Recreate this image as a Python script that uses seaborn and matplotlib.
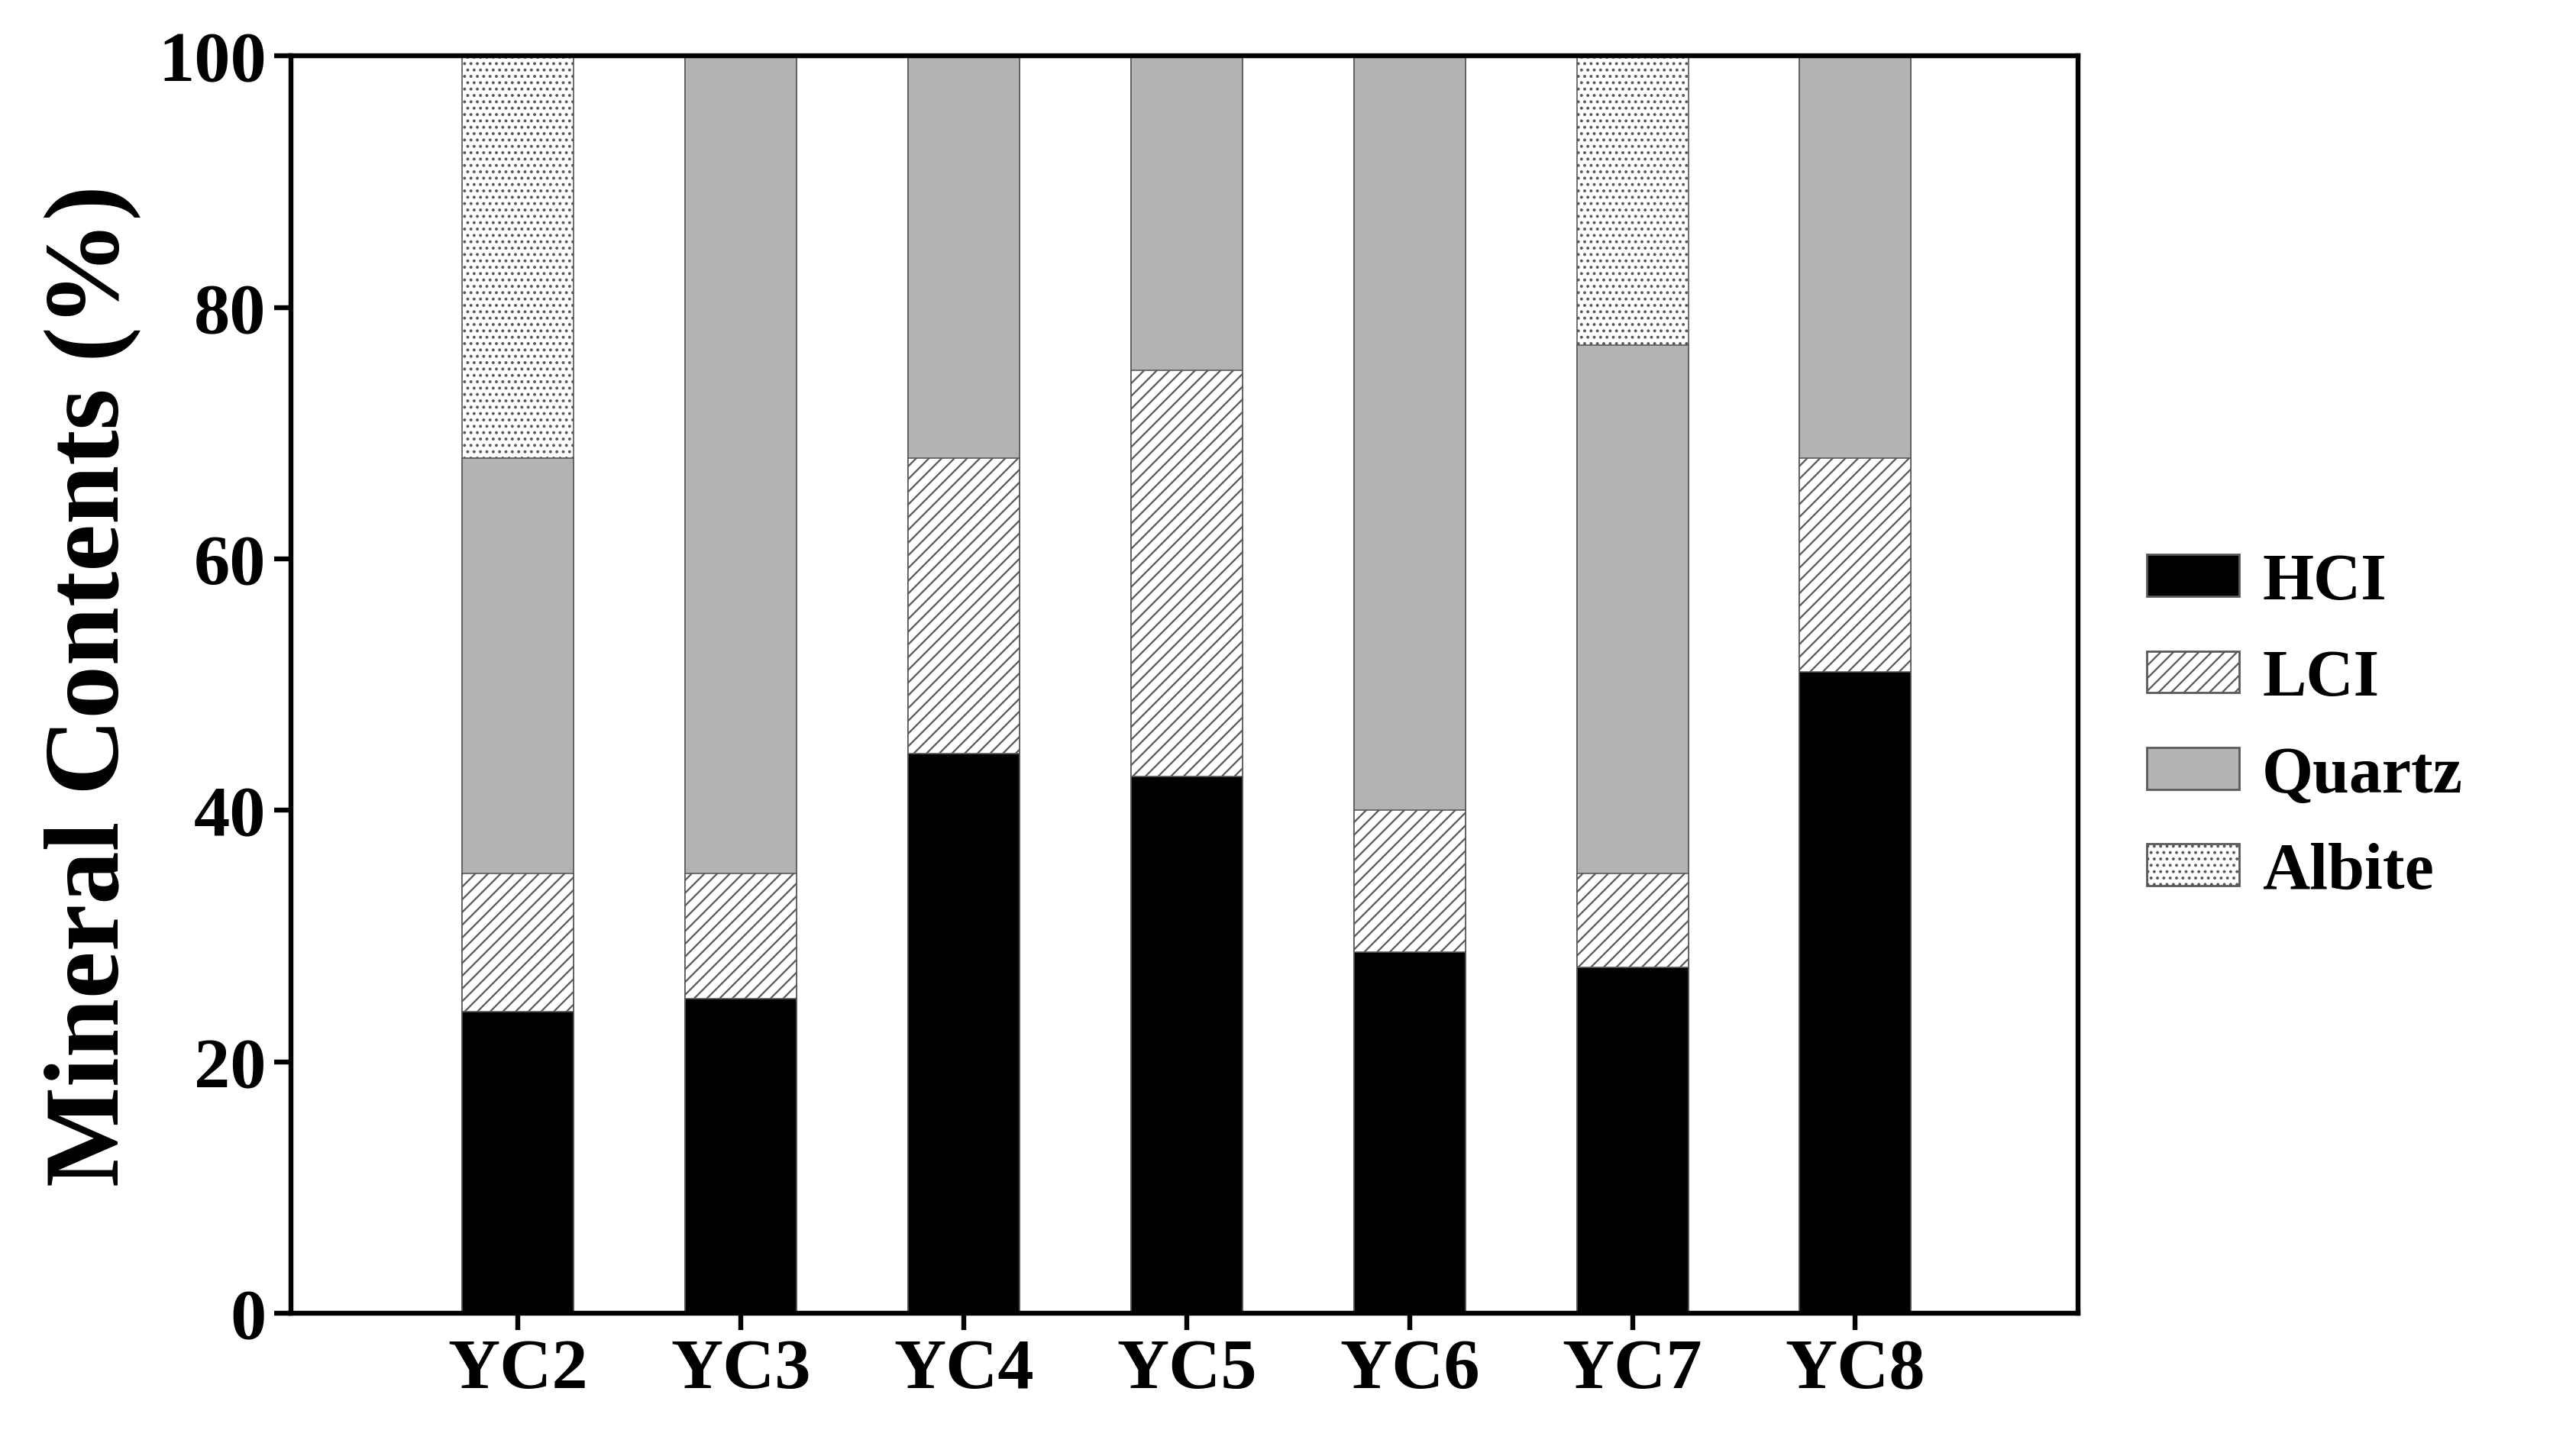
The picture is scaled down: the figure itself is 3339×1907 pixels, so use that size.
import matplotlib
matplotlib.use("Agg")
import matplotlib.pyplot as plt
import seaborn as sns
import numpy as np
import pandas as pd
from matplotlib.patches import Patch

samples = ["YC2", "YC3", "YC4", "YC5", "YC6", "YC7", "YC8"]
hci = [24.0, 25.0, 44.5, 42.7, 28.7, 27.5, 51.0]
lci = [11.0, 10.0, 23.5, 32.3, 11.3, 7.5, 17.0]
quartz = [33.0, 65.0, 32.0, 25.0, 60.0, 42.0, 32.0]
albite = [32.0, 0.0, 0.0, 0.0, 0.0, 23.0, 0.0]

sns.set_style("white")
plt.rcParams['font.family'] = ['Liberation Serif', 'DejaVu Serif']
plt.rcParams['font.weight'] = 'bold'
plt.rcParams['hatch.linewidth'] = 0.8
plt.rcParams['text.color'] = 'black'
plt.rcParams['axes.labelcolor'] = 'black'
plt.rcParams['xtick.color'] = 'black'
plt.rcParams['ytick.color'] = 'black'

fig = plt.figure(figsize=(16.695, 9.54), dpi=200)
ax = fig.add_axes([0.114, 0.098, 0.701, 0.863])

c1 = np.array(hci)
c2 = c1 + np.array(lci)
c3 = c2 + np.array(quartz)
c4 = c3 + np.array(albite)

layers = [("Albite", c4, "white", "...."),
          ("Quartz", c3, "#b3b3b3", None),
          ("LCI", c2, "white", "////"),
          ("HCI", c1, "black", None)]
for name, vals, col, hatch in layers:
    df = pd.DataFrame({"s": samples, "v": vals})
    sns.barplot(data=df, x="s", y="v", ax=ax, color=col, width=0.5,
                saturation=1, edgecolor="0.35", linewidth=0.6,
                hatch=hatch, errorbar=None)

ax.set_xlim(-1.02, 7.0)
ax.set_ylim(0, 100)
ax.set_yticks([0, 20, 40, 60, 80, 100])
ax.set_xlabel("")
ax.set_ylabel("Mineral Contents (%)", fontsize=50, fontweight='bold', labelpad=8)
ax.tick_params(axis='both', labelsize=34, direction='out', length=8, width=2.3,
               bottom=True, left=True, top=False, right=False, colors='black')
for lab in ax.get_xticklabels() + ax.get_yticklabels():
    lab.set_fontweight('bold')
for sp in ax.spines.values():
    sp.set_visible(True)
    sp.set_color('black')
    sp.set_linewidth(2.3)

handles = [Patch(facecolor='black', edgecolor='0.35', label='HCI'),
           Patch(facecolor='white', edgecolor='0.35', hatch='////', label='LCI'),
           Patch(facecolor='#b3b3b3', edgecolor='0.35', label='Quartz'),
           Patch(facecolor='white', edgecolor='0.35', hatch='....', label='Albite')]
fig.legend(handles=handles, loc='center left', bbox_to_anchor=(0.842, 0.5),
           frameon=False, prop={'size': 31, 'weight': 'bold'},
           handlelength=1.4, handleheight=0.6, labelspacing=0.55, handletextpad=0.35,
           borderaxespad=0, borderpad=0)

fig.savefig("out.png", dpi=200)
